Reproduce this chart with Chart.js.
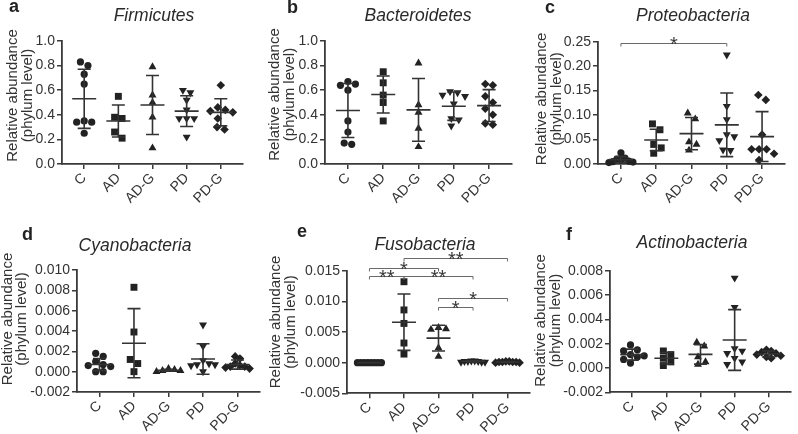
<!DOCTYPE html>
<html>
<head>
<meta charset="utf-8">
<script src="https://cdn.jsdelivr.net/npm/chart.js@4/dist/chart.umd.min.js"></script>
<style>
html,body{margin:0;padding:0;background:#fff;width:798px;height:434px;overflow:hidden;}
canvas{position:absolute;left:0;top:0;}
</style>
</head>
<body>
<canvas id="pa" width="798" height="434"></canvas>
<canvas id="pb" width="798" height="434"></canvas>
<canvas id="pc" width="798" height="434"></canvas>
<canvas id="pd" width="798" height="434"></canvas>
<canvas id="pe" width="798" height="434"></canvas>
<canvas id="pf" width="798" height="434"></canvas>
<script>
// ---------- DATA ----------
const groups = ['C', 'AD', 'AD-G', 'PD', 'PD-G'];
const yTitle = ['Relative abundance', '(phylum level)'];

// a  Firmicutes
const firmicutes = [
  [0.83, 0.80, 0.73, 0.65, 0.35, 0.34, 0.34, 0.25],
  [0.55, 0.38, 0.37, 0.26, 0.21],
  [0.79, 0.56, 0.50, 0.38, 0.13],
  [0.60, 0.58, 0.52, 0.44, 0.37, 0.37, 0.37, 0.22],
  [0.64, 0.46, 0.44, 0.43, 0.42, 0.37, 0.30, 0.28]
];
const firmicutesMean = [0.53, 0.35, 0.48, 0.43, 0.42];
const firmicutesSD   = [0.24, 0.13, 0.24, 0.125, 0.11];

// b  Bacteroidetes
const bacteroidetes = [
  [0.67, 0.65, 0.64, 0.60, 0.35, 0.26, 0.17, 0.16],
  [0.75, 0.66, 0.56, 0.50, 0.35],
  [0.82, 0.48, 0.42, 0.29, 0.14],
  [0.59, 0.58, 0.56, 0.55, 0.49, 0.37, 0.36, 0.31],
  [0.65, 0.64, 0.55, 0.50, 0.45, 0.40, 0.33, 0.32]
];
const bacteroidetesMean = [0.435, 0.565, 0.44, 0.47, 0.475];
const bacteroidetesSD   = [0.22, 0.15, 0.255, 0.115, 0.13];

// c  Proteobacteria
const proteobacteria = [
  [0.023, 0.012, 0.010, 0.008, 0.006, 0.005, 0.004, 0.003],
  [0.082, 0.070, 0.040, 0.033, 0.022],
  [0.104, 0.092, 0.045, 0.040, 0.028],
  [0.223, 0.118, 0.091, 0.060, 0.056, 0.048, 0.029, 0.028],
  [0.141, 0.131, 0.060, 0.030, 0.030, 0.030, 0.021, 0.008]
];
const proteobacteriaMean = [0.009, 0.049, 0.062, 0.080, 0.056];
const proteobacteriaSD   = [0.006, 0.022, 0.033, 0.065, 0.051];
const proteobacteriaSig  = [[0, 3, 0.247, '*']];

// d  Cyanobacteria
const cyanobacteria = [
  [0.0018, 0.0015, 0.0010, 0.0007, 0.0006, 0.0005, 0.0000, 0.0000],
  [0.0083, 0.0039, 0.0012, 0.0008, 0.0000],
  [0.0003, 0.0002, 0.0001, 0.0001, 0.0000],
  [0.0046, 0.0025, 0.0011, 0.0008, 0.0007, 0.0007, 0.0006, 0.0000],
  [0.0015, 0.0013, 0.0008, 0.0006, 0.0005, 0.0005, 0.0004, 0.0003]
];
const cyanobacteriaMean = [0.0007, 0.0028, 0.00014, 0.00125, 0.0007];
const cyanobacteriaSD   = [0.0006, 0.0034, 0.0001, 0.0015, 0.00045];

// e  Fusobacteria
const fusobacteria = [
  [0, 0, 0, 0, 0, 0, 0, 0],
  [0.0132, 0.0086, 0.0064, 0.0032, 0.0014],
  [0.0057, 0.0055, 0.0054, 0.0024, 0.0010],
  [0.0003, 0.0003, 0.0002, 0.0002, 0.0002, 0.0001, 0.0001, 0.0001],
  [0.0002, 0.0002, 0.0001, 0.0001, 0.0001, 0.0001, 0.0000, 0.0000]
];
const fusobacteriaMean = [0, 0.0066, 0.0040, 0.0002, 0.0001];
const fusobacteriaSD   = [0.00002, 0.0046, 0.0021, 0.0001, 0.00008];
const fusobacteriaSig  = [
  [1, 4, 0.0170, '**'],
  [0, 2, 0.0155, '*'],
  [0, 1, 0.0141, '**'],
  [1, 3, 0.0141, '**'],
  [2, 4, 0.0105, '*'],
  [2, 3, 0.0090, '*']
];

// f  Actinobacteria
const actinobacteria = [
  [0.0019, 0.0015, 0.0014, 0.0011, 0.0010, 0.0009, 0.0007, 0.0004],
  [0.0014, 0.0011, 0.0008, 0.0005, 0.0002],
  [0.0021, 0.0018, 0.0009, 0.0005, 0.0003],
  [0.0074, 0.0050, 0.0016, 0.0014, 0.0012, 0.0008, 0.0005, 0.0003],
  [0.0015, 0.0014, 0.0013, 0.0012, 0.0011, 0.0010, 0.0009, 0.0008]
];
const actinobacteriaMean = [0.0011, 0.0008, 0.00112, 0.0023, 0.00115];
const actinobacteriaSD   = [0.00045, 0.00047, 0.0008, 0.0025, 0.00025];

// ---------- PANELS (layout) ----------
const panels = [
  {el:'pa', letter:'a', name:'Firmicutes', values:firmicutes, mean:firmicutesMean, sd:firmicutesSD, sig:[],
   yMin:0, yMax:1, yStep:0.2, dec:1,
   axisX:62, top:41, right:243, bottom:164, titleX:154, titleBase:20.5, letterX:9, letterBase:12, yTitleX:13, yTitleShift:-7},
  {el:'pb', letter:'b', name:'Bacteroidetes', values:bacteroidetes, mean:bacteroidetesMean, sd:bacteroidetesSD, sig:[],
   yMin:0, yMax:1, yStep:0.2, dec:1,
   axisX:325, top:41, right:512, bottom:164, titleX:418, titleBase:20.5, letterX:287, letterBase:13, yTitleX:275, yTitleShift:-8},
  {el:'pc', letter:'c', name:'Proteobacteria', values:proteobacteria, mean:proteobacteriaMean, sd:proteobacteriaSD, sig:proteobacteriaSig,
   yMin:0, yMax:0.25, yStep:0.05, dec:2,
   axisX:598, top:41.7, right:785, bottom:164, titleX:693, titleBase:20.5, letterX:545, letterBase:12.7, yTitleX:542, yTitleShift:-4},
  {el:'pd', letter:'d', name:'Cyanobacteria', values:cyanobacteria, mean:cyanobacteriaMean, sd:cyanobacteriaSD, sig:[],
   yMin:-0.002, yMax:0.010, yStep:0.002, dec:3,
   axisX:77, top:270, right:260, bottom:392, titleX:135, titleBase:250.5, letterX:22, letterBase:240, yTitleX:7.5, yTitleShift:-12},
  {el:'pe', letter:'e', name:'Fusobacteria', values:fusobacteria, mean:fusobacteriaMean, sd:fusobacteriaSD, sig:fusobacteriaSig,
   yMin:-0.005, yMax:0.015, yStep:0.005, dec:3,
   axisX:347, top:270.7, right:530, bottom:393.3, titleX:425, titleBase:250, letterX:297, letterBase:237, yTitleX:276, yTitleShift:-10},
  {el:'pf', letter:'f', name:'Actinobacteria', values:actinobacteria, mean:actinobacteriaMean, sd:actinobacteriaSD, sig:[],
   yMin:-0.002, yMax:0.008, yStep:0.002, dec:3,
   axisX:610, top:270.7, right:791, bottom:392.3, titleX:692, titleBase:248, letterX:566, letterBase:240, yTitleX:541, yTitleShift:-11}
];

const FONT = "'Liberation Sans', Arial, Helvetica, sans-serif";
const INK = '#222';
const AXIS = '#3a3a3a';
const X_MIN = -0.65, X_MAX = 4.65;
Chart.defaults.font.family = FONT;
Chart.defaults.color = '#333';

const markers = [
  {pointStyle:'circle',   radius:3.6, rotation:0},
  {pointStyle:'rect',     radius:4.9, rotation:0},
  {pointStyle:'triangle', radius:4.6, rotation:0},
  {pointStyle:'triangle', radius:4.6, rotation:180},
  {pointStyle:'rectRot',  radius:4.3, rotation:0}
];

// scatter-dot-plot spreading (beeswarm) of overlapping points
function swarmX(vals, gi, p) {
  const pxY = (p.bottom - p.top) / (p.yMax - p.yMin);
  const pxX = (p.right - p.axisX) / (X_MAX - X_MIN);
  const step = 7.5, D = 6.5, cap = 12;
  const pts = vals.map((v, k) => ({k, py: -v * pxY, off: 0}));
  const order = [...pts].sort((a, b) => a.py - b.py);
  const placed = [];
  for (const pt of order) {
    for (let n = 0; n < 40; n++) {
      const off = n === 0 ? 0 : (n % 2 ? 1 : -1) * Math.ceil(n / 2) * step;
      if (!placed.some(q => Math.abs(q.py - pt.py) < D && Math.abs(q.off - off) < step - 0.01)) { pt.off = off; break; }
    }
    placed.push(pt);
  }
  const parent = pts.map((_, i) => i);
  const find = i => parent[i] === i ? i : (parent[i] = find(parent[i]));
  for (let i = 0; i < pts.length; i++)
    for (let j = i + 1; j < pts.length; j++)
      if (Math.abs(pts[i].py - pts[j].py) < D) parent[find(i)] = find(j);
  const clusters = {};
  pts.forEach((q, i) => { const r = find(i); (clusters[r] = clusters[r] || []).push(q); });
  Object.values(clusters).forEach(c => {
    const m = c.reduce((s, q) => s + q.off, 0) / c.length;
    c.forEach(q => q.off -= m);
  });
  const mx = Math.max(0, ...pts.map(q => Math.abs(q.off)));
  const sc = mx > cap ? cap / mx : 1;
  return pts.map(q => gi + q.off * sc / pxX);
}

function makePanel(p) {
  const datasets = groups.map((g, i) => {
    const xs = swarmX(p.values[i], i, p);
    return {
      label: g,
      data: p.values[i].map((v, k) => ({x: xs[k], y: v})),
      pointStyle: markers[i].pointStyle,
      pointRadius: markers[i].radius,
      pointRotation: markers[i].rotation,
      backgroundColor: INK,
      borderColor: INK,
      borderWidth: 0,
      showLine: false,
      clip: false
    };
  });

  const deco = {
    id: 'deco' + p.letter,
    afterDatasetsDraw(chart) {
      const ctx = chart.ctx, xs = chart.scales.x, ys = chart.scales.y;
      ctx.save();
      // mean +/- SD
      ctx.strokeStyle = '#333';
      ctx.lineWidth = 1.6;
      p.mean.forEach((m, i) => {
        const x = xs.getPixelForValue(i);
        const yM = ys.getPixelForValue(m);
        const yH = ys.getPixelForValue(m + p.sd[i]);
        const yL = ys.getPixelForValue(m - p.sd[i]);
        ctx.beginPath();
        ctx.moveTo(x, yH); ctx.lineTo(x, yL);
        ctx.moveTo(x - 6.5, yH); ctx.lineTo(x + 6.5, yH);
        ctx.moveTo(x - 6.5, yL); ctx.lineTo(x + 6.5, yL);
        ctx.moveTo(x - 12, yM); ctx.lineTo(x + 12, yM);
        ctx.stroke();
      });
      // significance brackets
      ctx.strokeStyle = '#6a6a6a';
      ctx.fillStyle = '#3a3a3a';
      ctx.lineWidth = 1;
      ctx.font = '20px ' + FONT;
      ctx.textAlign = 'center';
      ctx.textBaseline = 'alphabetic';
      p.sig.forEach(([a, b, lvl, lab]) => {
        const x1 = xs.getPixelForValue(a), x2 = xs.getPixelForValue(b);
        const y = Math.round(ys.getPixelForValue(lvl)) + 0.5;
        ctx.beginPath();
        ctx.moveTo(x1, y + 3); ctx.lineTo(x1, y);
        ctx.lineTo(x2, y); ctx.lineTo(x2, y + 3);
        ctx.stroke();
        ctx.fillText(lab, (x1 + x2) / 2, y + 7.5);
      });
      ctx.restore();
    },
    afterDraw(chart) {
      const ctx = chart.ctx;
      ctx.save();
      ctx.fillStyle = INK;
      ctx.textBaseline = 'alphabetic';
      ctx.font = 'bold 18px ' + FONT;
      ctx.textAlign = 'left';
      ctx.fillText(p.letter, p.letterX, p.letterBase);
      ctx.font = 'italic 17.5px ' + FONT;
      ctx.textAlign = 'center';
      ctx.fillStyle = '#2a2a2a';
      ctx.fillText(p.name, p.titleX, p.titleBase);
      // y-axis title (two lines, rotated)
      const ca = chart.chartArea;
      const yc = (ca.top + ca.bottom) / 2 + p.yTitleShift;
      ctx.font = '15px ' + FONT;
      ctx.textBaseline = 'middle';
      ctx.fillStyle = '#333';
      yTitle.forEach((t, k) => {
        ctx.save();
        ctx.translate(p.yTitleX + k * 14.5, yc);
        ctx.rotate(-Math.PI / 2);
        ctx.fillText(t, 0, 0);
        ctx.restore();
      });
      ctx.restore();
    }
  };

  const gridOpts = {display: true, drawOnChartArea: false, drawTicks: true, tickLength: 5, color: AXIS, lineWidth: 1.5};
  const borderOpts = {display: true, color: AXIS, width: 1.8};
  const xAxisH = Math.min(60, 434 - p.bottom);

  return new Chart(document.getElementById(p.el), {
    type: 'scatter',
    data: {datasets},
    options: {
      responsive: false,
      animation: false,
      events: [],
      layout: {padding: {left: 0, top: p.top, right: 798 - p.right, bottom: 434 - p.bottom - xAxisH}},
      plugins: {legend: {display: false}, tooltip: {enabled: false}, title: {display: false}},
      scales: {
        x: {
          type: 'linear', min: X_MIN, max: X_MAX,
          afterBuildTicks: s => { s.ticks = groups.map((g, i) => ({value: i})); },
          afterFit: s => { s.height = xAxisH; },
          ticks: {autoSkip: false, maxRotation: 45, minRotation: 45, padding: 1,
                  callback: v => groups[Math.round(v)], font: {size: 14}, color: '#333'},
          grid: gridOpts,
          border: borderOpts
        },
        y: {
          type: 'linear', min: p.yMin, max: p.yMax,
          afterFit: s => { s.width = p.axisX; },
          ticks: {stepSize: p.yStep, padding: 2, callback: v => (Math.abs(v) < 1e-12 ? 0 : v).toFixed(p.dec),
                  font: {size: 14}, color: '#333'},
          grid: gridOpts,
          border: borderOpts
        }
      }
    },
    plugins: [deco]
  });
}

panels.forEach(makePanel);
</script>
</body>
</html>
